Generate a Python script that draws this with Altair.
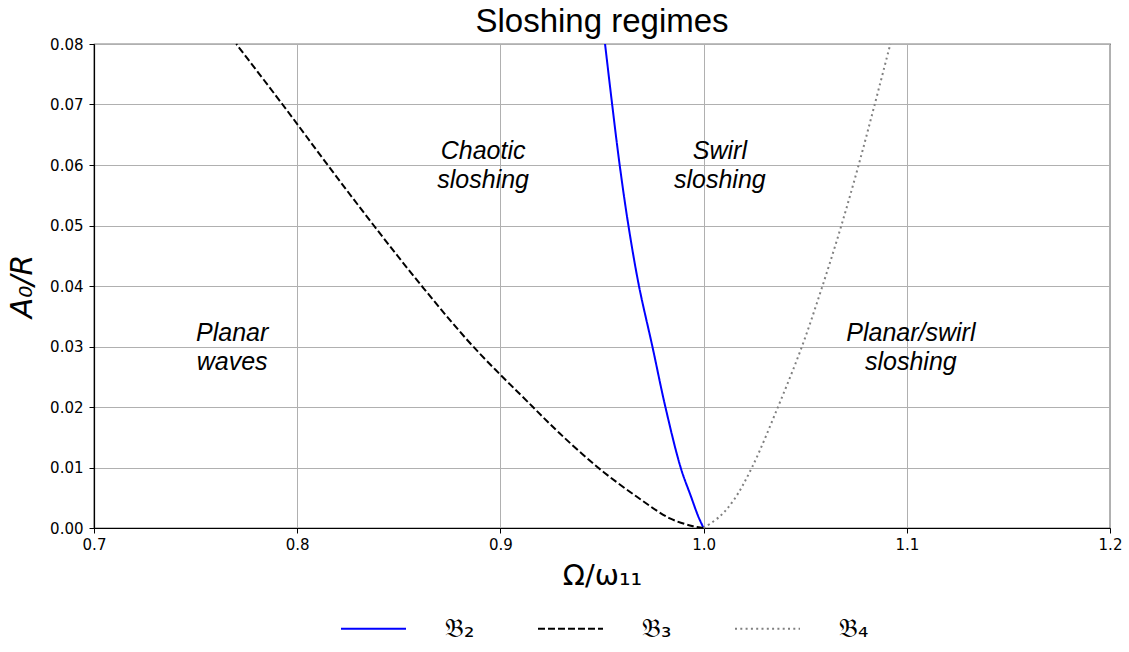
import altair as alt
import pandas as pd

# ---- data ----
series_names = ["𝔅₂", "𝔅₃", "𝔅₄"]
series_colors = ["#0000ff", "#000000", "#808080"]

b2_omega = [1.0, 0.9974, 0.9938, 0.9887, 0.9812, 0.9748, 0.9682, 0.9630, 0.9587, 0.9550, 0.9515]
b2_amp = [0.0, 0.0019, 0.0052, 0.01, 0.02, 0.03, 0.04, 0.05, 0.06, 0.07, 0.08]

b3_omega = [0.770, 0.7928, 0.815, 0.8377, 0.8613, 0.8866, 0.916, 0.929, 0.948, 0.967, 0.9834, 0.9948, 1.0]
b3_amp = [0.08, 0.07, 0.06, 0.05, 0.04, 0.03, 0.02, 0.0157, 0.01, 0.0052, 0.0016, 0.0003, 0.0]

b4_omega = [1.0, 1.0079, 1.0148, 1.0238, 1.0366, 1.0484, 1.0585, 1.0678, 1.0763, 1.0842, 1.0919]
b4_amp = [0.0, 0.0019, 0.0046, 0.01, 0.02, 0.03, 0.04, 0.05, 0.06, 0.07, 0.08]

region_x = [0.768, 0.8915, 1.008, 1.102]
region_y = [0.03, 0.06, 0.06, 0.03]
region_text = [["Planar", "waves"], ["Chaotic", "sloshing"], ["Swirl", "sloshing"], ["Planar/swirl", "sloshing"]]

x_ticks = [0.7, 0.8, 0.9, 1.0, 1.1, 1.2]
y_ticks = [0.0, 0.01, 0.02, 0.03, 0.04, 0.05, 0.06, 0.07, 0.08]

# ---- tables ----
rows = []
for name, om, am in zip(series_names, [b2_omega, b3_omega, b4_omega], [b2_amp, b3_amp, b4_amp]):
    for o, a in zip(om, am):
        rows.append({"series": name, "omega": o, "amp": a})
curves = pd.DataFrame(rows)

labels = pd.DataFrame({"x": region_x, "y": region_y, "text": region_text})

x_scale = alt.Scale(domain=[0.7, 1.2], nice=False, zero=False)
y_scale = alt.Scale(domain=[0.0, 0.08], nice=False, zero=False)

lines = alt.Chart(curves).mark_line(strokeWidth=2, interpolate="catmull-rom").encode(
    x=alt.X("omega:Q", scale=x_scale,
            axis=alt.Axis(values=x_ticks, format=".1f", title="Ω/ω₁₁",
                          titleFont="DejaVu Sans", titleFontSize=29, titleFontWeight="normal",
                          titlePadding=9, labelFlush=False)),
    y=alt.Y("amp:Q", scale=y_scale,
            axis=alt.Axis(values=y_ticks, format=".2f", title="A₀/R",
                          titleFont="DejaVu Sans", titleFontSize=30, titleFontWeight="normal",
                          titleFontStyle="italic", titlePadding=12, labelPadding=6,
                          labelFlush=False)),
    color=alt.Color("series:N",
                    scale=alt.Scale(domain=series_names, range=series_colors),
                    legend=alt.Legend(title=None, orient="none", direction="horizontal",
                                      legendX=246, legendY=551, symbolType="stroke",
                                      symbolSize=4225, symbolStrokeWidth=2,
                                      labelFont="DejaVu Sans", labelFontSize=26,
                                      labelColor="black",
                                      labelOffset=38, columnPadding=59, padding=0)),
    strokeDash=alt.StrokeDash("series:N",
                              scale=alt.Scale(domain=series_names,
                                              range=[[1, 0], [7, 3], [2, 3.3]]),
                              legend=None),
    order=alt.Order("amp:Q"),
    detail="series:N",
)

texts = alt.Chart(labels).mark_text(
    font="Liberation Sans", fontSize=25, fontStyle="italic", lineHeight=29,
    align="center", baseline="middle", color="black", dy=-14
).encode(
    x=alt.X("x:Q", scale=x_scale),
    y=alt.Y("y:Q", scale=y_scale),
    text="text",
)

chart = alt.layer(lines, texts).properties(
    width=1016, height=484,
    title=alt.TitleParams("Sloshing regimes", font="Liberation Sans", fontSize=33,
                          fontWeight="normal", color="black", offset=-2),
    autosize=alt.AutoSizeParams(type="none"),
    padding={"left": 94, "top": 44, "right": 19, "bottom": 124},
).configure_view(
    stroke="black", strokeWidth=1.2
).configure_axis(
    labelFont="DejaVu Sans", labelFontSize=15, labelColor="black",
    tickColor="black", tickSize=5, domainColor="black", domainWidth=1.2,
    gridColor="#b0b0b0", gridWidth=1, titleColor="black", labelPadding=4,
)

chart.save("out.html", embed_options={"renderer": "svg", "actions": False})
